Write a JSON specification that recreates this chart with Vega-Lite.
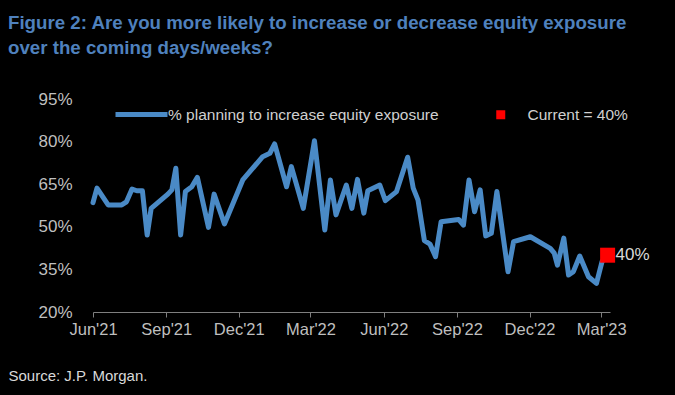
{
  "$schema": "https://vega.github.io/schema/vega-lite/v6.json",
  "width": 517,
  "height": 213,
  "autosize": {"type": "none"},
  "padding": {"left": 93, "top": 99, "right": 65, "bottom": 83},
  "background": "#000000",
  "config": {
    "view": {"stroke": null},
    "font": "Liberation Sans, Arial, sans-serif"
  },
  "title": {
    "text": ["Figure 2: Are you more likely to increase or decrease equity exposure", "over the coming days/weeks?"],
    "anchor": "start",
    "frame": "group",
    "dx": -85,
    "offset": 28,
    "fontSize": 18.7,
    "fontWeight": "bold",
    "color": "#4f81bd",
    "lineHeight": 25,
    "font": "Liberation Sans, Arial, sans-serif"
  },
  "datasets": {
    "series": [
      {"date": "2021-06-01", "value": 58.5},
      {"date": "2021-06-06", "value": 63.6},
      {"date": "2021-06-20", "value": 57.7},
      {"date": "2021-07-07", "value": 57.7},
      {"date": "2021-07-13", "value": 58.8},
      {"date": "2021-07-20", "value": 63.3},
      {"date": "2021-07-26", "value": 62.7},
      {"date": "2021-08-02", "value": 62.7},
      {"date": "2021-08-08", "value": 47.1},
      {"date": "2021-08-13", "value": 56.5},
      {"date": "2021-09-03", "value": 61.5},
      {"date": "2021-09-08", "value": 63.0},
      {"date": "2021-09-13", "value": 70.6},
      {"date": "2021-09-19", "value": 47.1},
      {"date": "2021-09-25", "value": 62.4},
      {"date": "2021-10-03", "value": 64.1},
      {"date": "2021-10-10", "value": 67.4},
      {"date": "2021-10-24", "value": 49.8},
      {"date": "2021-10-31", "value": 61.5},
      {"date": "2021-11-13", "value": 51.0},
      {"date": "2021-12-06", "value": 66.5},
      {"date": "2021-12-31", "value": 74.7},
      {"date": "2022-01-09", "value": 75.9},
      {"date": "2022-01-15", "value": 79.2},
      {"date": "2022-01-30", "value": 64.1},
      {"date": "2022-02-05", "value": 71.2},
      {"date": "2022-02-20", "value": 56.5},
      {"date": "2022-03-06", "value": 80.3},
      {"date": "2022-03-19", "value": 48.9},
      {"date": "2022-03-26", "value": 66.5},
      {"date": "2022-04-02", "value": 54.2},
      {"date": "2022-04-15", "value": 64.7},
      {"date": "2022-04-22", "value": 56.5},
      {"date": "2022-04-29", "value": 66.7},
      {"date": "2022-05-07", "value": 54.8},
      {"date": "2022-05-12", "value": 62.7},
      {"date": "2022-05-27", "value": 64.7},
      {"date": "2022-06-03", "value": 59.2},
      {"date": "2022-06-17", "value": 62.4},
      {"date": "2022-07-01", "value": 74.5},
      {"date": "2022-07-08", "value": 63.6},
      {"date": "2022-07-14", "value": 59.4},
      {"date": "2022-07-22", "value": 45.1},
      {"date": "2022-07-29", "value": 43.9},
      {"date": "2022-08-05", "value": 39.5},
      {"date": "2022-08-12", "value": 51.8},
      {"date": "2022-09-03", "value": 52.6},
      {"date": "2022-09-09", "value": 50.6},
      {"date": "2022-09-16", "value": 66.5},
      {"date": "2022-09-23", "value": 55.3},
      {"date": "2022-09-30", "value": 63.0},
      {"date": "2022-10-07", "value": 46.8},
      {"date": "2022-10-14", "value": 47.7},
      {"date": "2022-10-21", "value": 62.4},
      {"date": "2022-11-04", "value": 34.2},
      {"date": "2022-11-11", "value": 44.8},
      {"date": "2022-12-02", "value": 46.5},
      {"date": "2022-12-27", "value": 42.4},
      {"date": "2023-01-01", "value": 40.7},
      {"date": "2023-01-05", "value": 36.5},
      {"date": "2023-01-13", "value": 46.0},
      {"date": "2023-01-19", "value": 33.0},
      {"date": "2023-01-25", "value": 34.2},
      {"date": "2023-02-02", "value": 39.7},
      {"date": "2023-02-13", "value": 32.4},
      {"date": "2023-02-23", "value": 30.1},
      {"date": "2023-03-02", "value": 37.7},
      {"date": "2023-03-09", "value": 40.0}
    ],
    "current": [
      {"date": "2023-03-09", "value": 40.0, "label": "40%"}
    ]
  },
  "layer": [
    {
      "data": {"name": "series"},
      "mark": {"type": "line", "strokeWidth": 5, "strokeJoin": "round", "strokeCap": "round"},
      "encoding": {
        "x": {
          "field": "date",
          "type": "temporal",
          "scale": {
            "type": "utc",
            "domain": [
              {"year": 2021, "month": 6, "date": 1, "utc": true},
              {"year": 2023, "month": 3, "date": 12, "utc": true}
            ]
          },
          "axis": {
            "values": [
              {"year": 2021, "month": 6, "date": 1, "utc": true},
              {"year": 2021, "month": 9, "date": 1, "utc": true},
              {"year": 2021, "month": 12, "date": 1, "utc": true},
              {"year": 2022, "month": 3, "date": 1, "utc": true},
              {"year": 2022, "month": 6, "date": 1, "utc": true},
              {"year": 2022, "month": 9, "date": 1, "utc": true},
              {"year": 2022, "month": 12, "date": 1, "utc": true},
              {"year": 2023, "month": 3, "date": 1, "utc": true}
            ],
            "format": "%b'%y",
            "grid": false,
            "labelFontSize": 16.5,
            "labelColor": "#bfbfbf",
            "labelPadding": 4,
            "domainColor": "#7f7f7f",
            "tickColor": "#7f7f7f",
            "tickSize": 5,
            "labelFlush": false,
            "labelOverlap": false,
            "title": "Source: J.P. Morgan.",
            "titleX": -85,
            "titleY": 63,
            "titleAlign": "left",
            "titleAnchor": null,
            "titleBaseline": "middle",
            "titleFontWeight": "normal",
            "titleFontSize": 15,
            "titleColor": "#d9d9d9"
          }
        },
        "y": {
          "field": "value",
          "type": "quantitative",
          "scale": {"domain": [20, 95], "nice": false, "zero": false},
          "axis": {
            "values": [20, 35, 50, 65, 80, 95],
            "labelExpr": "datum.value + '%'",
            "domain": false,
            "ticks": false,
            "grid": false,
            "labelPadding": 21,
            "labelFontSize": 17,
            "labelColor": "#bfbfbf",
            "title": null
          }
        },
        "stroke": {
          "datum": "% planning to increase equity exposure",
          "scale": {"range": ["#4a8ac6"]},
          "legend": {
            "orient": "none",
            "legendX": 20,
            "legendY": -13,
            "padding": 0,
            "title": null,
            "symbolType": "stroke",
            "symbolSize": 2704,
            "symbolStrokeWidth": 5,
            "labelFontSize": 15.5,
            "labelColor": "#d0d0d0",
            "labelOffset": -2,
            "labelLimit": 400
          }
        }
      }
    },
    {
      "data": {"name": "current"},
      "mark": {"type": "square", "size": 225, "opacity": 1, "filled": true},
      "encoding": {
        "x": {"field": "date", "type": "temporal"},
        "y": {"field": "value", "type": "quantitative"},
        "fill": {
          "datum": "Current = 40%",
          "scale": {"range": ["#ff0000"]},
          "legend": {
            "orient": "none",
            "legendX": 400,
            "legendY": 8,
            "padding": 0,
            "title": null,
            "symbolType": "square",
            "symbolSize": 81,
            "symbolStrokeWidth": 0,
            "symbolOpacity": 1,
            "labelFontSize": 15.5,
            "labelColor": "#d0d0d0",
            "labelOffset": 19,
            "labelLimit": 300
          }
        }
      }
    },
    {
      "data": {"name": "current"},
      "mark": {"type": "text", "align": "left", "baseline": "middle", "dx": 8, "fontSize": 17, "color": "#d9d9d9"},
      "encoding": {
        "x": {"field": "date", "type": "temporal"},
        "y": {"field": "value", "type": "quantitative"},
        "text": {"field": "label"}
      }
    }
  ]
}
